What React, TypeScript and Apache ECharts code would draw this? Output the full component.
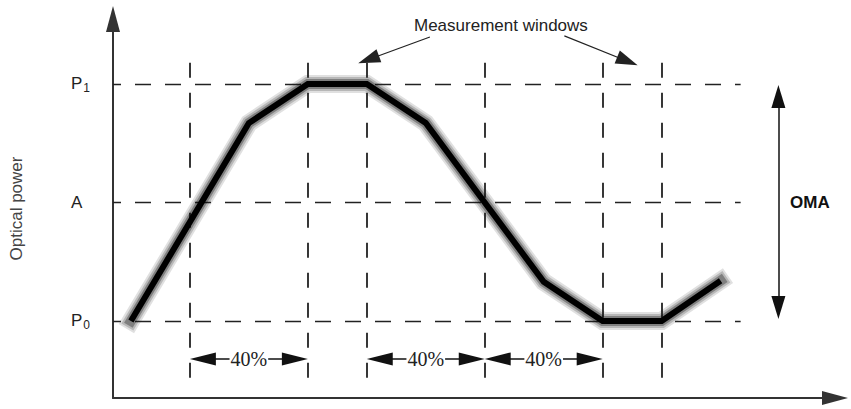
import React, { useEffect, useRef } from 'react';
import * as echarts from 'echarts';

// Signal samples (unit interval index, normalised optical power)
const sampleIdx = [0, 2, 3, 4, 5, 6, 7, 8, 9, 10];
const power = [0, 0.835, 1, 1, 0.835, 0.5, 0.165, 0, 0, 0.17];

// Levels on the power axis
const levelValues = [0, 0.5, 1];
const levelNames = ['P0', 'A', 'P1'];

// Measurement window edges and the 40% spans
const windowEdges = [1, 3, 4, 6, 8, 9];
const spans: [number, number][] = [[1, 3], [4, 6], [6, 8]];
const spanText = '40%';

const X_MIN = -0.304, X_MAX = 11.94, Y_MIN = -0.325, Y_MAX = 1.274;

export default function App() {
  const ref = useRef<HTMLDivElement>(null);
  useEffect(() => {
    if (!ref.current) return;
    const chart = echarts.init(ref.current, undefined, { renderer: 'svg' });
    const line = sampleIdx.map((x, i) => [x, power[i]]);
    const hLines = levelValues.map((v) => [{ coord: [X_MIN, v] }, { coord: [10.34, v] }]);
    const vLines = windowEdges.map((x) => [{ coord: [x, 1.089] }, { coord: [x, -0.24] }]);
    const inset = 0.22;
    const spanLines = spans.map(([a, b]) => [{ coord: [a + inset, -0.16] }, { coord: [b - inset, -0.16] }]);
    const sans = 'Liberation Sans, Arial, sans-serif';
    const serif = '"Liberation Serif", "Times New Roman", serif';
    const glow = (w: number, a: number, z: number, cap = 'square') => ({
      type: 'line', data: line, showSymbol: false, silent: true, z,
      lineStyle: { color: `rgba(0,0,0,${a})`, width: w, join: 'miter', cap },
    });

    const option: any = {
      animation: false,
      grid: { left: 110, right: 16, top: 19, bottom: 11 },
      title: {
        text: 'Measurement windows', left: 409, top: 12,
        textStyle: { fontFamily: sans, fontSize: 17, fontWeight: 'normal', color: '#222' },
      },
      graphic: [
        { type: 'text', left: 790, top: 194, style: { text: 'OMA', font: 'bold 17px "Liberation Sans", Arial, sans-serif', fill: '#111' } },
      ],
      xAxis: {
        type: 'value', min: X_MIN, max: X_MAX,
        axisLine: { show: true, onZero: false, lineStyle: { color: '#333', width: 2 }, symbol: ['none', 'triangle'], symbolSize: [14, 26] },
        axisTick: { show: false }, axisLabel: { show: false }, splitLine: { show: false },
      },
      yAxis: {
        type: 'value', min: Y_MIN, max: Y_MAX,
        name: 'Optical power', nameLocation: 'middle', nameGap: 88,
        nameTextStyle: { fontFamily: sans, fontSize: 17, color: '#444' },
        axisLine: { show: true, onZero: false, lineStyle: { color: '#333', width: 2 }, symbol: ['none', 'triangle'], symbolSize: [14, 26] },
        axisTick: { show: false }, splitLine: { show: false },
        axisLabel: {
          show: true, customValues: levelValues, align: 'left', margin: 42,
          formatter: (v: number) => {
            const name = levelNames[levelValues.indexOf(v)] ?? '';
            if (name.length === 2) return `{p|${name[0]}}{s|${name[1]}}`;
            return `{p|${name}}`;
          },
          rich: {
            p: { fontFamily: sans, fontSize: 17, color: '#222' },
            s: { fontFamily: sans, fontSize: 12, color: '#222', padding: [9, 0, 0, 1] },
          },
          fontFamily: sans, fontSize: 17, color: '#222',
        },
      },
      series: [
        {
          type: 'line', data: [], silent: true, z: 1,
          markLine: {
            silent: true, animation: false, symbol: ['none', 'none'], label: { show: false }, emphasis: { disabled: true },
            lineStyle: { type: [16, 14], dashOffset: 8, color: '#222', width: 1.3 }, data: hLines,
          },
        },
        {
          type: 'line', data: [], silent: true, z: 1,
          markLine: {
            silent: true, animation: false, symbol: ['none', 'none'], label: { show: false }, emphasis: { disabled: true },
            lineStyle: { type: [15, 15], dashOffset: 0, color: '#222', width: 1.8 }, data: vLines,
          },
        },
        {
          type: 'line', data: [], silent: true, z: 2,
          markLine: {
            silent: true, animation: false, symbol: ['triangle', 'triangle'], symbolSize: [13, 26],
            lineStyle: { type: 'solid', color: '#111', width: 1.5 }, emphasis: { disabled: true },
            label: {
              show: true, position: 'middle', distance: 0, verticalAlign: 'middle', align: 'center',
              formatter: '{t|' + spanText + '}',
              fontFamily: serif, fontSize: 20, color: '#222',
              rich: { t: { fontFamily: serif, fontSize: 20, color: '#222', backgroundColor: '#fff', padding: [0, 1] } },
            },
            data: spanLines,
          },
        },
        {
          type: 'line', data: [], silent: true, z: 2,
          markLine: {
            silent: true, animation: false, symbol: ['none', 'triangle'], symbolSize: [14, 22],
            lineStyle: { type: 'solid', color: '#222', width: 1.2 }, emphasis: { disabled: true }, label: { show: false },
            data: [
              [{ coord: [5.07, 1.198] }, { coord: [4.03, 1.103] }],
              [{ coord: [7.35, 1.203] }, { coord: [8.42, 1.096] }],
            ],
          },
        },
        {
          type: 'line', data: [], silent: true, z: 2,
          markLine: {
            silent: true, animation: false, symbol: ['triangle', 'triangle'], symbolSize: [14, 23],
            lineStyle: { type: 'solid', color: '#111', width: 1.5 }, emphasis: { disabled: true }, label: { show: false },
            data: [[{ coord: [10.98, 0.057] }, { coord: [10.98, 0.947] }]],
          },
        },
        glow(18, 0.12, 3),
        glow(14, 0.18, 4),
        glow(10, 0.3, 5),
        { type: 'line', data: line, showSymbol: false, silent: true, z: 6, lineStyle: { color: '#000', width: 6, join: 'miter', cap: 'butt' } },
      ],
    };
    chart.setOption(option);
    return () => chart.dispose();
  }, []);
  return <div ref={ref} style={{ position: 'absolute', left: 0, top: 0, width: 851, height: 409, background: '#fff' }} />;
}
